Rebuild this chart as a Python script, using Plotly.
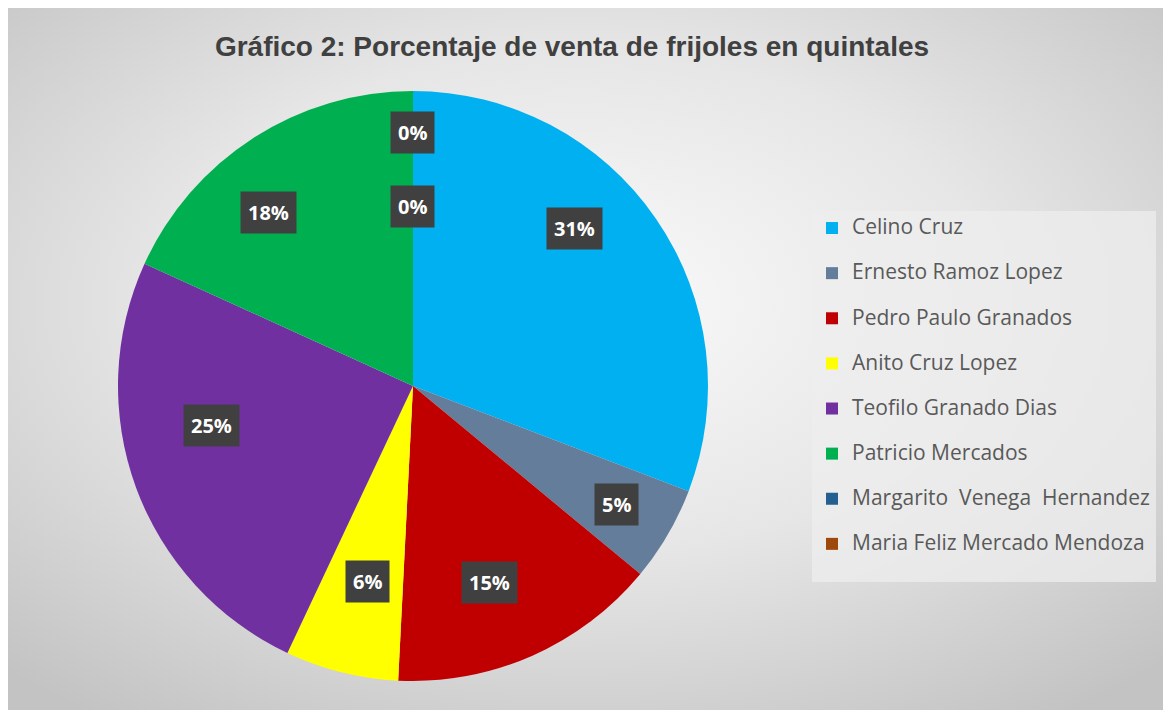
import base64
import math
import plotly.graph_objects as go

# datos: porcentaje de quintales vendidos por productor
productores = ["Celino Cruz", "Ernesto Ramoz Lopez", "Pedro Paulo Granados", "Anito Cruz Lopez",
               "Teofilo Granado Dias", "Patricio Mercados", "Margarito  Venega  Hernandez",
               "Maria Feliz Mercado Mendoza"]
quintales = [30.8, 5.2, 14.8, 6.2, 24.8, 18.2, 0, 0]
colores = ["#00B0F0", "#647D9B", "#C00000", "#FFFF00", "#7030A0", "#00B050", "#255E91", "#9E480E"]

# la página deja 8px de margen: todo se mide en px de la figura
W, H = 1163, 702
CX, CY, R = 405, 378, 295
M_T, M_B = CY - R, H - (CY + R)
plot_h = H - M_T - M_B

# fondo con degradado radial
svg = f'''<svg xmlns="http://www.w3.org/2000/svg" width="{W}" height="{H}">
<defs><radialGradient id="g" cx="49%" cy="42%" r="72%">
<stop offset="0%" stop-color="#fafafa"/><stop offset="50%" stop-color="#e6e6e6"/><stop offset="100%" stop-color="#c3c3c3"/>
</radialGradient></defs>
<rect width="{W}" height="{H}" fill="url(#g)"/>
</svg>'''
bg_uri = "data:image/svg+xml;base64," + base64.b64encode(svg.encode()).decode()

# leyenda: texto más grande que el alto de línea usado para el espaciado
leyenda = [f'<span style="font-size:21px">{p}</span><br> ' for p in productores]

fig = go.Figure()
fig.add_trace(go.Pie(labels = leyenda, values = quintales, sort = False, direction = 'clockwise',
                     rotation = 0, marker = dict(colors = colores, line = dict(width = 0)), textinfo = 'none',
                     domain = dict(x = [(CX - R) / W, (CX + R) / W], y = [0, 1]), hoverinfo = 'percent'))

# etiquetas de datos con recuadro oscuro (posición "ajuste perfecto" de Excel)
total = sum(quintales)
label_r = [0.765, 0.80, 0.715, 0.68, 0.695, 0.765, 0.86, 0.61]
label_da = [-9.7, 0, 2.5, -1, 9, -7, 0, 0]
acum = 0
anns = []
for i, v in enumerate(quintales):
    ang = math.radians(360 * (acum + v / 2) / total + label_da[i])
    acum += v
    px = CX + label_r[i] * R * math.sin(ang)
    py = CY - label_r[i] * R * math.cos(ang)
    anns.append(dict(x = px / W, y = 1 - (py - M_T) / plot_h, xref = 'paper', yref = 'paper', showarrow = False,
                     xanchor = 'center', yanchor = 'middle',
                     text = f"<b>{round(v / total * 100)}%</b>", bgcolor = '#404040', borderpad = 7,
                     font = dict(family = 'Open Sans', size = 20, color = '#FFFFFF')))

fig.update_layout(width = W, height = H, margin = dict(l = 0, r = 0, t = M_T, b = M_B), autosize = False,
                  paper_bgcolor = '#e2e2e2', plot_bgcolor = 'rgba(0,0,0,0)',
                  title = dict(text = "<b>Gráfico 2: Porcentaje de venta de frijoles en quintales</b>", x = 564 / W, xanchor = 'center',
                               y = 1 - 38 / H, yanchor = 'middle',
                               font = dict(family = 'Liberation Sans Narrow, Arial Narrow, Liberation Sans', size = 28, color = '#404040')),
                  legend = dict(x = 804 / W, y = 1 - (203 - M_T) / plot_h, xanchor = 'left', yanchor = 'top',
                                bgcolor = 'rgba(238,238,238,0.75)', valign = 'top', itemclick = False,
                                font = dict(family = 'Open Sans', size = 16.2, color = '#595959')),
                  annotations = anns,
                  images = [dict(source = bg_uri, xref = 'paper', yref = 'paper', x = 0, y = 1 + M_T / plot_h,
                                 sizex = 1, sizey = H / plot_h, sizing = 'stretch', layer = 'below', xanchor = 'left', yanchor = 'top')])

fig.write_html("out.html")
